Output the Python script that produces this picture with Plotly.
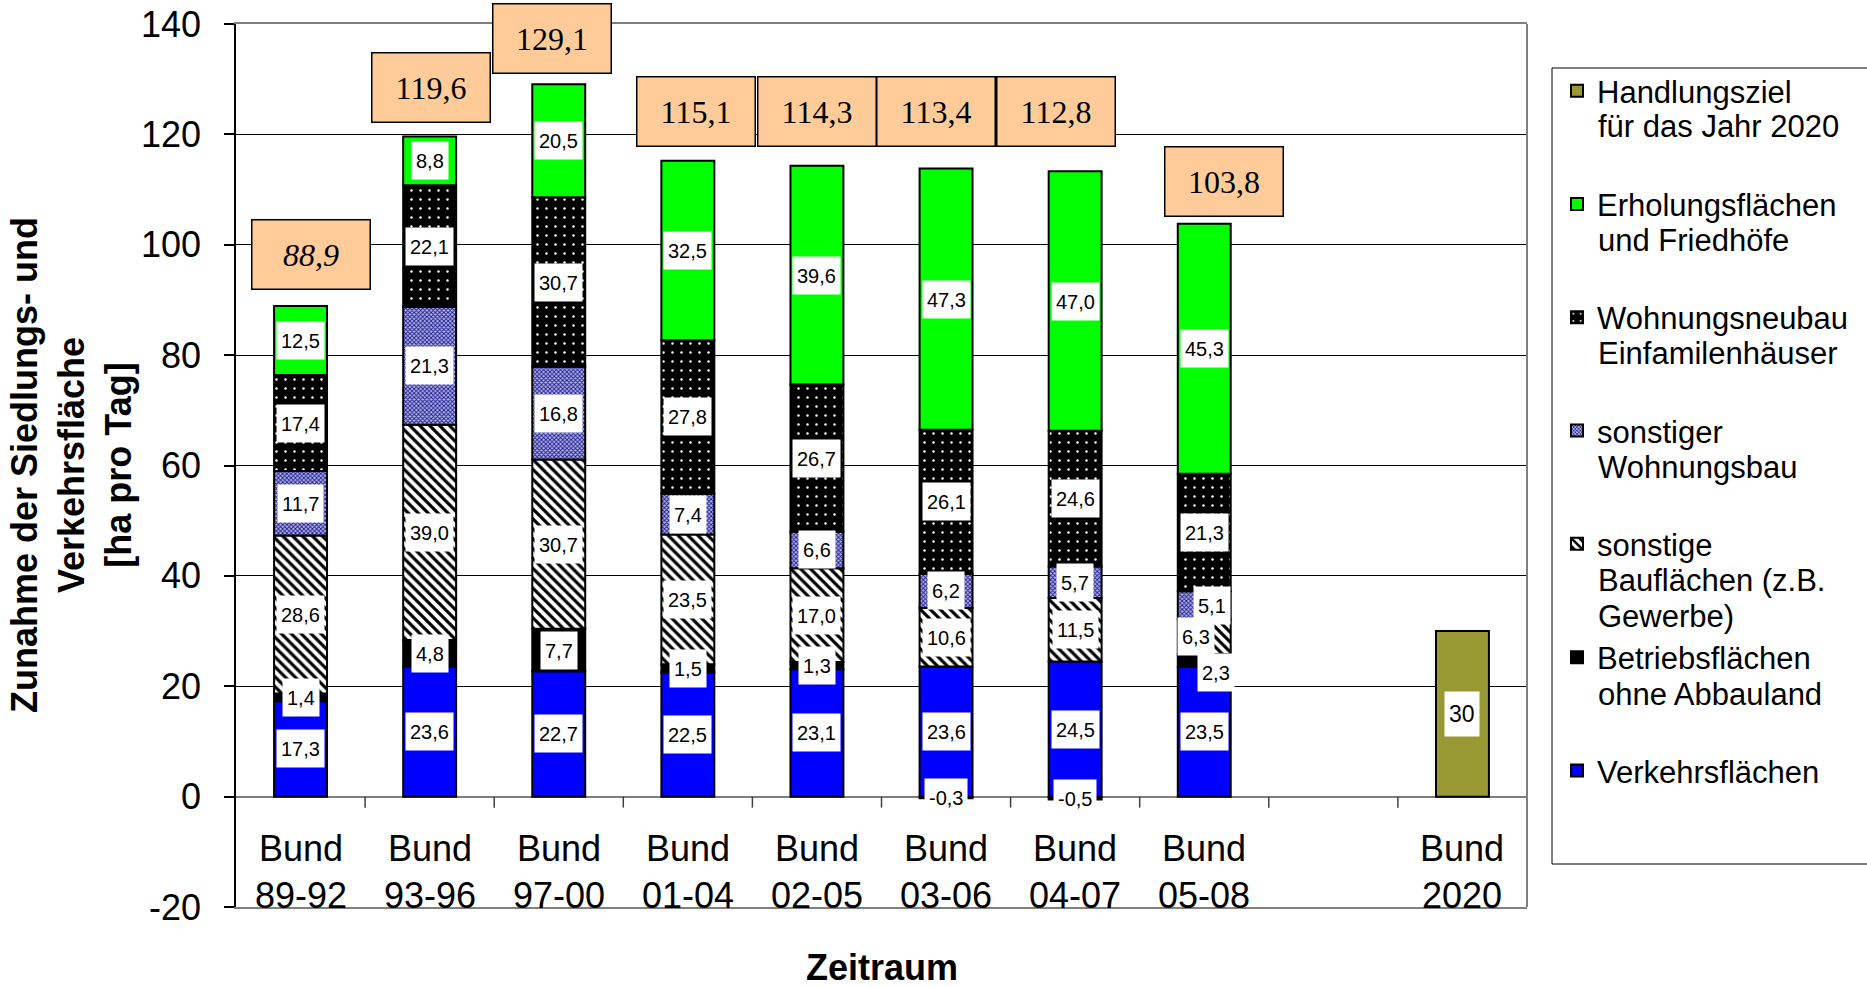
import plotly.graph_objects as go

# ---- data -------------------------------------------------------------
PERIODS = ["89-92", "93-96", "97-00", "01-04", "02-05", "03-06", "04-07", "05-08"]
TARGET_LABEL = "2020"

verkehrsflaechen = [17.3, 23.6, 22.7, 22.5, 23.1, 23.6, 24.5, 23.5]
betriebsflaechen = [1.4, 4.8, 7.7, 1.5, 1.3, -0.3, -0.5, 2.3]
sonstige_bauflaechen = [28.6, 39.0, 30.7, 23.5, 17.0, 10.6, 11.5, 6.3]
sonstiger_wohnungsbau = [11.7, 21.3, 16.8, 7.4, 6.6, 6.2, 5.7, 5.1]
wohnungsneubau_efh = [17.4, 22.1, 30.7, 27.8, 26.7, 26.1, 24.6, 21.3]
erholungsflaechen = [12.5, 8.8, 20.5, 32.5, 39.6, 47.3, 47.0, 45.3]
totals = [88.9, 119.6, 129.1, 115.1, 114.3, 113.4, 112.8, 103.8]
handlungsziel_2020 = [30]

# ---- layout helpers ---------------------------------------------------
FONT = "Liberation Sans, Arial, sans-serif"
SERIF = "Liberation Serif, Times New Roman, serif"
X_PERIODS = list(range(len(PERIODS)))
X_TARGET = len(PERIODS) + 1          # one empty slot before the target bar
X_RANGE = [-0.5, X_TARGET + 0.5]
Y_RANGE = [-20, 140]
Y_TICKS = list(range(Y_RANGE[0], Y_RANGE[1] + 1, 20))

# plot area in pixels (used to place paper-referenced items)
PLOT_L, PLOT_R, PLOT_T, PLOT_B = 236, 1527, 24, 907


def px_x(px):
    return (px - PLOT_L) / (PLOT_R - PLOT_L)


def px_y(py):
    return 1 - (py - PLOT_T) / (PLOT_B - PLOT_T)


def fmt(v):
    return f"{v:.1f}".replace(".", ",")


# series drawn bottom -> top
series = [
    dict(key="verkehr", name="Verkehrsflächen", extra=[], values=verkehrsflaechen,
         marker=dict(color="#0000FF")),
    dict(key="betrieb", name="Betriebsflächen", extra=["ohne Abbauland"], values=betriebsflaechen,
         marker=dict(color="#000000")),
    dict(key="bau", name="sonstige", extra=["Bauflächen (z.B.", "Gewerbe)"], values=sonstige_bauflaechen,
         marker=dict(color="white", pattern=dict(shape="\\", fgcolor="black", bgcolor="white",
                                                 size=7, solidity=0.45, fgopacity=1))),
    dict(key="wohn", name="sonstiger", extra=["Wohnungsbau"], values=sonstiger_wohnungsbau,
         marker=dict(color="#9090d0", pattern=dict(shape="x", fgcolor="#1c1c8a", bgcolor="#b4b4ec",
                                                   size=3, solidity=0.5, fgopacity=1))),
    dict(key="efh", name="Wohnungsneubau", extra=["Einfamilenhäuser"], values=wohnungsneubau_efh,
         marker=dict(color="black", pattern=dict(shape=".", fgcolor="white", bgcolor="black",
                                                 size=9, solidity=0.06, fgopacity=1))),
    dict(key="erholung", name="Erholungsflächen", extra=["und Friedhöfe"], values=erholungsflaechen,
         marker=dict(color="#00FF00")),
]

# pixel nudges for a few segment labels that sit beside their segment
LABEL_SHIFT = {("wohn", 7): (8, 0), ("bau", 7): (-8, 0), ("betrieb", 7): (12, -12)}

# total boxes: centre height (data units) and horizontal nudge (px)
TOTAL_BOX_Y = [98.2, 128.5, 137.4, 124.2, 124.2, 124.2, 124.2, 111.4]
TOTAL_BOX_DX = [10, 1, -7, 8, 0, -10, -19, 20]

fig = go.Figure()
annotations = []

pos_base = [0.0] * len(PERIODS)
neg_base = [0.0] * len(PERIODS)
for rank, s in enumerate(series):
    s["marker"]["line"] = dict(color="black", width=2)
    fig.add_trace(go.Bar(
        x=X_PERIODS, y=s["values"], name=s["name"], marker=s["marker"],
        legendgroup=s["key"], legendrank=100 - rank, hoverinfo="skip",
    ))
    for i, v in enumerate(s["values"]):
        if v >= 0:
            mid = pos_base[i] + v / 2
            pos_base[i] += v
        else:
            mid = neg_base[i] + v / 2
            neg_base[i] += v
        dx, dy = LABEL_SHIFT.get((s["key"], i), (0, 0))
        annotations.append(dict(
            x=i, y=mid, xref="x", yref="y", text=fmt(v), showarrow=False,
            xanchor="center", yanchor="middle",
            font=dict(family=FONT, size=20, color="black"),
            bgcolor="white", borderpad=4, height=29, xshift=dx, yshift=dy,
        ))

fig.add_trace(go.Bar(
    x=[X_TARGET], y=handlungsziel_2020, name="Handlungsziel",
    marker=dict(color="#999933", line=dict(color="black", width=2)),
    legendgroup="ziel", legendrank=1, hoverinfo="skip",
))
annotations.append(dict(
    x=X_TARGET, y=handlungsziel_2020[0] / 2, xref="x", yref="y",
    text=str(handlungsziel_2020[0]), showarrow=False, xanchor="center", yanchor="middle",
    font=dict(family=FONT, size=23, color="black"),
    bgcolor="white", borderpad=4, height=36,
))

# totals in peach boxes
for i, t in enumerate(totals):
    txt = fmt(t)
    if i == 0:
        txt = f"<i>{txt}</i>"
    annotations.append(dict(
        x=i, y=TOTAL_BOX_Y[i], xref="x", yref="y", text=txt, showarrow=False,
        xanchor="center", yanchor="middle",
        xshift=TOTAL_BOX_DX[i], font=dict(family=SERIF, size=32, color="black"),
        bgcolor="#FFCC99", bordercolor="black", borderwidth=1.5, borderpad=0,
        width=117, height=68,
    ))

# category labels inside the band below zero
for i, p in enumerate(PERIODS + [TARGET_LABEL]):
    xi = X_PERIODS[i] if i < len(PERIODS) else X_TARGET
    annotations.append(dict(
        x=xi, y=-13.7, xref="x", yref="y", text=f"Bund<br>{p}", showarrow=False,
        xanchor="center", yanchor="middle",
        font=dict(family=FONT, size=36, color="black"),
    ))

# axis titles
annotations.append(dict(
    x=0.5, y=px_y(967), xref="paper", yref="paper", showarrow=False,
    xanchor="center", yanchor="middle",
    text="<b>Zeitraum</b>", font=dict(family=FONT, size=36, color="black"),
))
annotations.append(dict(
    x=px_x(72), y=px_y(465), xref="paper", yref="paper", showarrow=False, textangle=-90,
    xanchor="center", yanchor="middle",
    text="<b>Zunahme der Siedlungs- und<br>Verkehrsfläche<br>[ha pro Tag]</b>",
    font=dict(family=FONT, size=36, color="black"),
))

# continuation lines of the legend entries
LEGEND_FIRST_Y = 91
LEGEND_STEP = 113.6
LEGEND_LINE = 35.5
legend_order = [dict(extra=["für das Jahr 2020"])] + [dict(extra=s["extra"]) for s in reversed(series)]
for k, item in enumerate(legend_order):
    for j, line in enumerate(item["extra"]):
        annotations.append(dict(
            x=px_x(1597), y=px_y(LEGEND_FIRST_Y + k * LEGEND_STEP + (j + 1) * LEGEND_LINE),
            xref="paper", yref="paper", xanchor="left", yanchor="middle", showarrow=False,
            text=line, font=dict(family=FONT, size=31, color="black"), borderpad=0,
        ))

shapes = []
# category separators hanging below the zero line
for k in range(X_TARGET):
    shapes.append(dict(
        type="line", xref="x", yref="y", x0=k + 0.5, x1=k + 0.5,
        ysizemode="pixel", yanchor=0, y0=0, y1=-11,
        line=dict(color="#404040", width=1.5),
    ))
# right border of the plot area
shapes.append(dict(type="line", xref="paper", yref="paper", x0=1, x1=1, y0=0, y1=1,
                   line=dict(color="#808080", width=2)))
# legend frame
shapes.append(dict(type="rect", xref="paper", yref="paper",
                   x0=px_x(1552), x1=px_x(1880), y0=px_y(864), y1=px_y(68),
                   line=dict(color="black", width=1), fillcolor="rgba(0,0,0,0)"))

fig.update_layout(
    width=1867, height=987,
    margin=dict(l=PLOT_L, r=1867 - PLOT_R, t=PLOT_T, b=987 - PLOT_B, pad=0,
                autoexpand=False),
    paper_bgcolor="white", plot_bgcolor="white",
    barmode="relative", bargap=0.59,
    font=dict(family=FONT, color="black"),
    xaxis=dict(range=X_RANGE, showticklabels=False, ticks="", showgrid=False,
               zeroline=False, showline=True, mirror=True, linecolor="#808080",
               linewidth=2, fixedrange=True, automargin=False),
    yaxis=dict(range=Y_RANGE, tickmode="array", tickvals=Y_TICKS,
               ticktext=[str(v) for v in Y_TICKS], ticks="outside", ticklen=10,
               tickwidth=1.5, tickcolor="black", showline=True, linecolor="black",
               linewidth=1.5, showgrid=True, gridcolor="black", gridwidth=1,
               zeroline=True, zerolinecolor="#7f7f7f", zerolinewidth=2,
               tickfont=dict(family=FONT, size=36, color="black"),
               ticklabelstandoff=16, fixedrange=True, automargin=False),
    legend=dict(
        x=px_x(1557), y=px_y(64), xanchor="left", yanchor="top",
        traceorder="grouped", tracegroupgap=70,
        font=dict(family=FONT, size=31, color="black"),
        bgcolor="rgba(0,0,0,0)", borderwidth=0,
    ),
    showlegend=True,
    annotations=annotations,
    shapes=shapes,
)

fig.write_html("out.html")
